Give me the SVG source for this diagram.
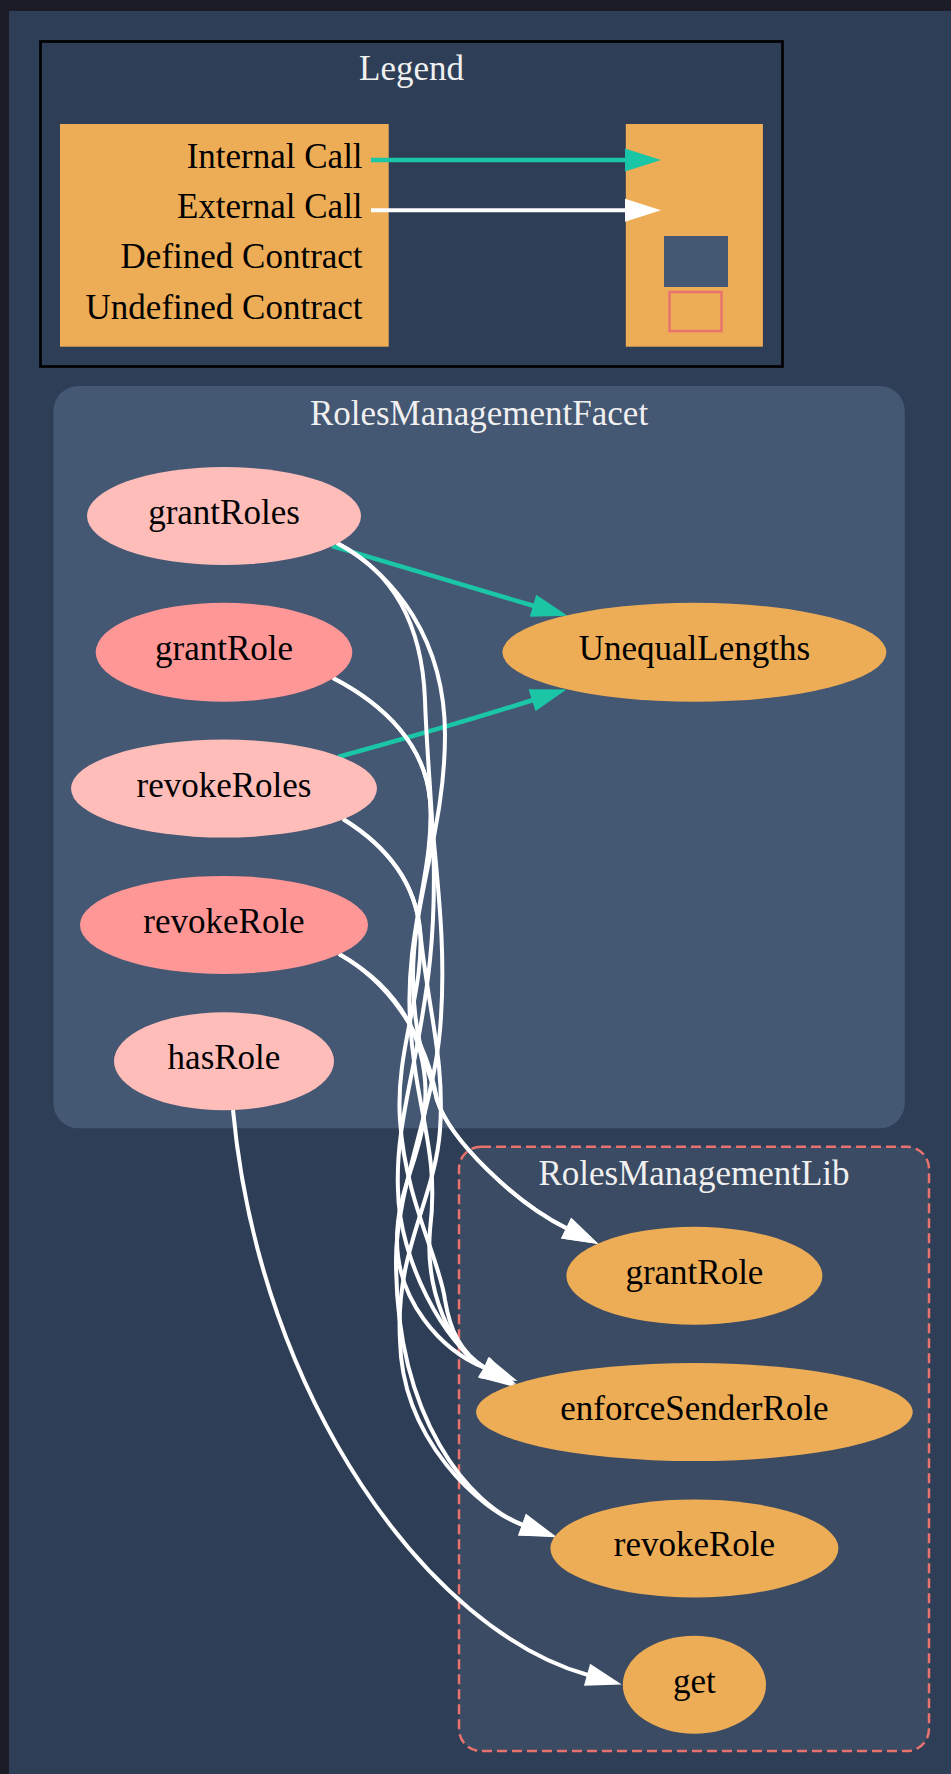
<svg xmlns="http://www.w3.org/2000/svg" width="951" height="1774" viewBox="0 0 951 1774">
  <style>
    .lbl { font-family: "Liberation Serif", "Times New Roman", serif; font-size: 35px; fill: #000000; text-anchor: middle; }
    .title { font-family: "Liberation Serif", "Times New Roman", serif; font-size: 35px; fill: #f0f0f0; text-anchor: middle; }
    .key { font-family: "Liberation Serif", "Times New Roman", serif; font-size: 35px; fill: #000000; text-anchor: end; }
    .ext { fill: #ffbdb9; }
    .pub { fill: #ff9797; }
    .def { fill: #edad56; }
    .call { fill: none; stroke: #ffffff; stroke-width: 4; }
    .internal { fill: none; stroke: #1bc6a6; stroke-width: 4.5; }
  </style>
  <defs>
    <marker id="arrowWhite" markerUnits="userSpaceOnUse" markerWidth="40" markerHeight="26" refX="1" refY="12" orient="auto" overflow="visible">
      <path d="M0,0.5 L36,12 L0,23.5 Z" fill="#ffffff"/>
    </marker>
    <marker id="arrowTeal" markerUnits="userSpaceOnUse" markerWidth="40" markerHeight="26" refX="1" refY="12" orient="auto" overflow="visible">
      <path d="M0,0.5 L36,12 L0,23.5 Z" fill="#1bc6a6"/>
    </marker>
  </defs>

  <!-- page -->
  <rect x="0" y="0" width="951" height="1774" fill="#1c1b28"/>
  <rect x="9" y="11" width="942" height="1763" fill="#2e3e56"/>

  <!-- legend -->
  <g id="legend">
    <rect x="40.5" y="41.5" width="742" height="325" fill="none" stroke="#000000" stroke-width="2.7"/>
    <text class="title" x="411.5" y="80">Legend</text>
    <rect x="60" y="124" width="328.7" height="222.7" fill="#edad56"/>
    <rect x="625.8" y="124" width="137.1" height="222.7" fill="#edad56"/>
    <text class="key" x="362.6" y="168.3">Internal Call</text>
    <text class="key" x="362.6" y="218.3">External Call</text>
    <text class="key" x="362.6" y="268.3">Defined Contract</text>
    <text class="key" x="362.6" y="319.3">Undefined Contract</text>
    <path class="internal" d="M371,160 L626,160" marker-end="url(#arrowTeal)"/>
    <path class="call" d="M371,210.3 L626,210.3" stroke-width="4.5" marker-end="url(#arrowWhite)"/>
    <rect x="664" y="236" width="64" height="51" fill="#445773"/>
    <rect x="669.5" y="292" width="52" height="39" fill="none" stroke="#e8726d" stroke-width="2.5"/>
  </g>

  <!-- contract clusters -->
  <g id="cluster_RolesManagementFacet">
    <rect x="53.4" y="386" width="851.4" height="742.3" rx="25" ry="25" fill="#445773"/>
    <text class="title" x="479" y="425">RolesManagementFacet</text>
  </g>
  <g id="cluster_RolesManagementLib">
    <rect x="459" y="1146.7" width="470" height="604.3" rx="22" ry="22" fill="#3b4b63" stroke="#e8726d" stroke-width="2.5" stroke-dasharray="10 5"/>
    <text class="title" x="694" y="1185">RolesManagementLib</text>
  </g>

  <!-- calls -->
  <g id="edges">
    <path class="internal" d="M332,546 C400,566 468,587 534,606" marker-end="url(#arrowTeal)"/>
    <path class="internal" d="M338,757 C400,740 470,720 533,700" marker-end="url(#arrowTeal)"/>

    <!-- grantRoles -->
    <path class="call" d="M337,543 C395,575 445,640 445,735 C445,830 412,900 413,980 C414,1050 432,1075 437,1100 C450,1140 515,1203 567,1228.5" marker-end="url(#arrowWhite)"/>
    <path class="call" d="M337,543 C390,570 422,620 425,700 C428,790 440,860 430,960 C420,1060 395,1120 398,1190 C399,1260 445,1345 485,1368" marker-end="url(#arrowWhite)"/>
    <!-- grantRole -->
    <path class="call" d="M333,678 C385,705 425,745 430,800 C435,870 405,930 410,1020 C415,1110 440,1150 430,1230 C425,1290 450,1350 485,1368" marker-end="url(#arrowWhite)"/>
    <path class="call" d="M333,678 C385,705 425,745 430,800 C437,880 447,950 440,1030 C433,1110 396,1190 396,1260 C396,1420 470,1505 523,1525" marker-end="url(#arrowWhite)"/>
    <!-- revokeRoles -->
    <path class="call" d="M343,819 C385,845 415,880 420,930 C428,1010 445,1060 440,1130 C435,1200 395,1250 400,1340 C402,1440 480,1510 523,1525" marker-end="url(#arrowWhite)"/>
    <path class="call" d="M343,819 C385,845 415,880 420,930 C425,990 395,1050 400,1120 C405,1200 440,1260 445,1300 C450,1330 460,1352 485,1368" marker-end="url(#arrowWhite)"/>
    <!-- revokeRole -->
    <path class="call" d="M339,954 C385,980 425,1030 437,1100 C450,1140 515,1203 567,1228.5" marker-end="url(#arrowWhite)"/>
    <path class="call" d="M339,954 C385,980 420,1020 425,1080 C430,1150 397,1180 397,1240 C397,1300 440,1350 485,1368" marker-end="url(#arrowWhite)"/>
    <!-- hasRole -->
    <path class="call" d="M233,1110 C260,1400 430,1631 588,1675" marker-end="url(#arrowWhite)"/>
  </g>

  <!-- RolesManagementFacet functions -->
  <g id="node_grantRoles">
    <ellipse class="ext" cx="224" cy="516" rx="137" ry="49"/>
    <text class="lbl" x="224" y="524">grantRoles</text>
  </g>
  <g id="node_grantRole">
    <ellipse class="pub" cx="224" cy="652.3" rx="128.3" ry="49.5"/>
    <text class="lbl" x="224" y="660.3">grantRole</text>
  </g>
  <g id="node_revokeRoles">
    <ellipse class="ext" cx="224" cy="788.6" rx="153" ry="49"/>
    <text class="lbl" x="224" y="796.6">revokeRoles</text>
  </g>
  <g id="node_revokeRole">
    <ellipse class="pub" cx="224" cy="924.9" rx="144" ry="49"/>
    <text class="lbl" x="224" y="932.9">revokeRole</text>
  </g>
  <g id="node_hasRole">
    <ellipse class="ext" cx="224" cy="1061.2" rx="110" ry="49"/>
    <text class="lbl" x="224" y="1069.2">hasRole</text>
  </g>
  <g id="node_UnequalLengths">
    <ellipse class="def" cx="694.4" cy="652.3" rx="192" ry="49.5"/>
    <text class="lbl" x="694.4" y="660.3">UnequalLengths</text>
  </g>

  <!-- RolesManagementLib functions -->
  <g id="node_lib_grantRole">
    <ellipse class="def" cx="694.4" cy="1275.8" rx="128" ry="49"/>
    <text class="lbl" x="694.4" y="1283.8">grantRole</text>
  </g>
  <g id="node_lib_enforceSenderRole">
    <ellipse class="def" cx="694.4" cy="1412.1" rx="218.3" ry="49"/>
    <text class="lbl" x="694.4" y="1420.1">enforceSenderRole</text>
  </g>
  <g id="node_lib_revokeRole">
    <ellipse class="def" cx="694.4" cy="1548.4" rx="144" ry="49"/>
    <text class="lbl" x="694.4" y="1556.4">revokeRole</text>
  </g>
  <g id="node_lib_get">
    <ellipse class="def" cx="694.4" cy="1684.7" rx="71.6" ry="49"/>
    <text class="lbl" x="694.4" y="1692.7">get</text>
  </g>
</svg>
